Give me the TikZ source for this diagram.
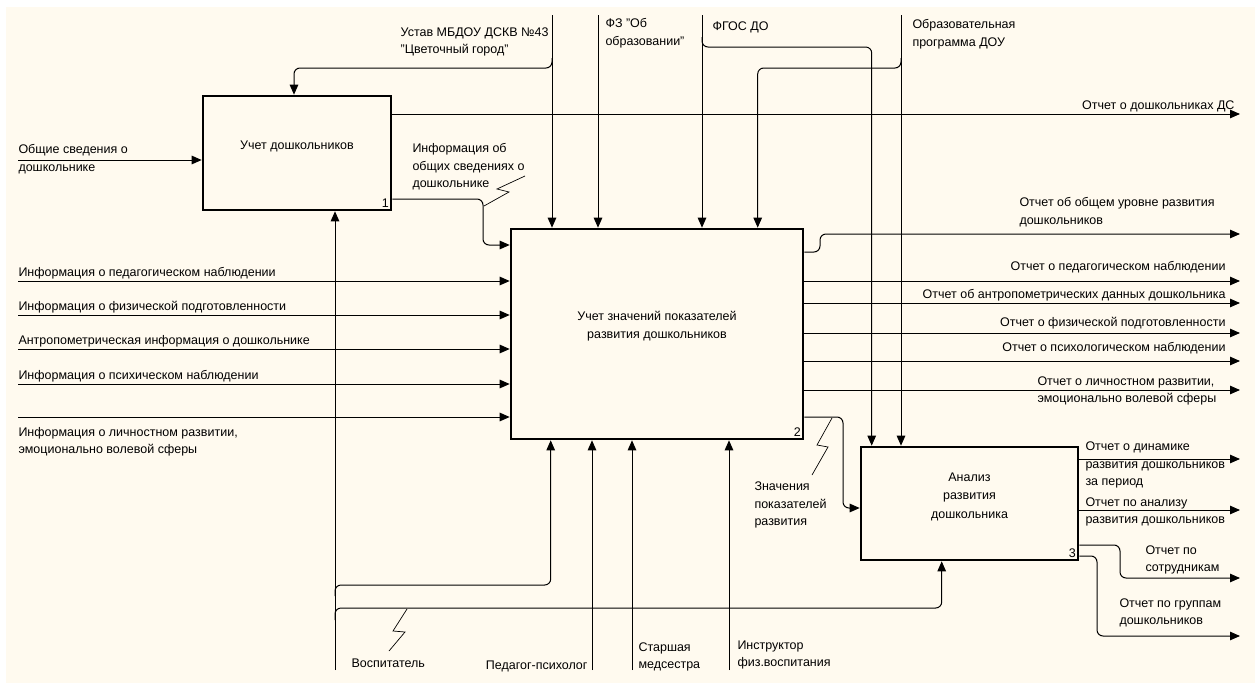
\documentclass[tikz,border=0pt]{standalone}
\usepackage{fontspec}
\setmainfont{Liberation Sans}
\usetikzlibrary{arrows.meta, positioning, calc}
\definecolor{paper}{RGB}{255,250,239}

\begin{document}
\begin{tikzpicture}[x=1pt, y=-1pt, >={Triangle[length=10pt,width=8.5pt]},
  font=\fontsize{12.5}{17.5}\selectfont, line width=1pt,
  func/.style={draw, line width=2.6pt, inner sep=0pt},
  num/.style={anchor=south east, inner sep=3pt},
  lbl/.style={inner sep=0pt, align=left},
  rc/.style={rounded corners=6pt},
  zig/.style={line width=0.7pt}]
  \useasboundingbox (0,0) rectangle (1259,683);
  \fill[paper] (6,7) rectangle (1255,683);
  % function boxes
  \node[func, minimum width=188pt, minimum height=114pt] (b1) at (297,153) {};
  \node[func, minimum width=292pt, minimum height=210pt] (b2) at (657,334) {};
  \node[func, minimum width=217pt, minimum height=113pt] (b3) at (969.5,503.5) {};
  \node[align=center] (t1) at ([yshift=7pt]b1.center) {Учет дошкольников};
  \node[align=center] (t2) at ([yshift=8pt]b2.center) {Учет значений показателей\\развития дошкольников};
  \node[align=center, font=\fontsize{12.5}{18.5}\selectfont] (t3) at ([yshift=7pt]b3.center) {Анализ\\развития\\дошкольника};
  \node[num] (n1) at (b1.south east) {1};
  \node[num] (n2) at (b2.south east) {2};
  \node[num] (n3) at (b3.south east) {3};
  % controls from the top
  \coordinate (ust) at (552,15);
  \coordinate (fz) at (598,15);
  \coordinate (fgos) at (702,15);
  \coordinate (op) at (901,15);
  \draw[->] (ust) -- (ust |- b2.north);
  \draw[->] (fz) -- (fz |- b2.north);
  \draw[->] (fgos) -- (fgos |- b2.north);
  \draw[->] (op) -- (op |- b3.north);
  \draw[->, rc] (ust |- 0,58) -- (ust |- 0,68) -| ([xshift=-3pt]b1.north);
  \draw[->, rc] (fgos |- 0,37) -- (fgos |- 0,47) -| ([xshift=12pt]b3.north west);
  \draw[->, rc] (op |- 0,58) -- (op |- 0,68) -| ([xshift=248pt]b2.north west);
  \node[lbl, anchor=east] (lust) at (549,42) {Устав МБДОУ ДСКВ №43\\"Цветочный город"};
  \node[lbl, anchor=west] (lfz) at (605,33) {ФЗ "Об\\образовании"};
  \node[lbl, anchor=west] (lfgos) at (712,27) {ФГОС ДО};
  \node[lbl, anchor=west] (lop) at (912,34) {Образовательная\\программа ДОУ};
  % inputs
  \coordinate (gen) at (18,160);
  \draw[->] (gen) -- (gen -| b1.west);
  \node[lbl, anchor=west] (lgen) at (18,159) {Общие сведения о\\дошкольнике};
  \foreach \y/\ly/\t in {281/273/Информация о педагогическом наблюдении,
      315/307/Информация о физической подготовленности,
      349/341/Антропометрическая информация о дошкольнике,
      384/376/Информация о психическом наблюдении, 417/442/} {
    \coordinate (in\y) at (18,\y);
    \draw[->] (in\y) -- (in\y -| b2.west);
    \node[lbl, anchor=west] (li\y) at (18,\ly) {\t};
  }
  \node[lbl, anchor=west] (lpers) at (18,442) {Информация о личностном развитии,\\эмоционально волевой сферы};
  % box 1 to box 2
  \draw[->, rc] (b1.east |- 0,199) -- (483,199) |- (b2.west |- 0,245);
  \draw[zig] (484,206) -- (509,192) -- (497,189) -- (525,176);
  \node[lbl, anchor=west] (linf) at (412,167) {Информация об\\общих сведениях о\\дошкольнике};
  % outputs of box 1 and box 2
  \coordinate (o1) at (1240,114);
  \draw[->] (b1.east |- o1) -- (o1);
  \node[lbl, anchor=east] (lo1) at (1235,106) {Отчет о дошкольниках ДС};
  \coordinate (o2) at (1240,234);
  \draw[->, rc] (b2.east |- 0,252) -- (820,252) |- (o2);
  \node[lbl, anchor=west] (lo2) at (1019,212) {Отчет об общем уровне развития\\дошкольников};
  \foreach \y/\ly/\t in {281/267/Отчет о педагогическом наблюдении,
      303/295/Отчет об антропометрических данных дошкольника,
      333/323/Отчет о физической подготовленности,
      361/348/Отчет о психологическом наблюдении} {
    \coordinate (out\y) at (1240,\y);
    \draw[->] (b2.east |- out\y) -- (out\y);
    \node[lbl, anchor=east] (lout\y) at (1226,\ly) {\t};
  }
  \coordinate (o7) at (1240,390);
  \draw[->] (b2.east |- o7) -- (o7);
  \node[lbl, anchor=west] (lo7) at (1037,391) {Отчет о личностном развитии,\\эмоционально волевой сферы};
  % box 2 to box 3
  \draw[->, rc] (b2.east |- 0,417) -- (843,417) |- (b3.west |- 0,508);
  \draw[zig] (832,418) -- (817,445) -- (828,447) -- (812,475);
  \node[lbl, anchor=west] (lznach) at (754,505) {Значения\\показателей\\развития};
  % outputs of box 3
  \coordinate (d1) at (1240,459);
  \coordinate (d2) at (1240,510);
  \coordinate (d3) at (1240,578);
  \coordinate (d4) at (1240,636);
  \draw[->] (b3.east |- d1) -- (d1);
  \draw[->] (b3.east |- d2) -- (d2);
  \draw[->, rc] (b3.east |- 0,545) -- (1120,545) |- (d3);
  \draw[->, rc] (b3.east |- 0,556) -- (1097,556) |- (d4);
  \node[lbl, anchor=west] (ld1) at (1085,465) {Отчет о динамике\\развития дошкольников\\за период};
  \node[lbl, anchor=west] (ld2) at (1085,512) {Отчет по анализу\\развития дошкольников};
  \node[lbl, anchor=west] (ld3) at (1145,560) {Отчет по\\сотрудникам};
  \node[lbl, anchor=west] (ld4) at (1119,613) {Отчет по группам\\дошкольников};
  % mechanisms from the bottom
  \coordinate (vos) at (335,670);
  \coordinate (psy) at (592,670);
  \coordinate (med) at (632,670);
  \coordinate (fiz) at (729,670);
  \draw[->] (vos) -- (vos |- b1.south);
  \draw[->, rc] (vos |- 0,596) -- (vos |- 0,585) -| ([xshift=41pt]b2.south west);
  \draw[->, rc] (vos |- 0,620) -- (vos |- 0,608) -| ([xshift=82pt]b3.south west);
  \draw[->] (psy) -- (psy |- b2.south);
  \draw[->] (med) -- (med |- b2.south);
  \draw[->] (fiz) -- (fiz |- b2.south);
  \draw[zig] (407,609) -- (393,631) -- (405,632) -- (389,651);
  \node[lbl, anchor=west] (lvos) at (351,663) {Воспитатель};
  \node[lbl, anchor=east] (lpsy) at (588,666) {Педагог-психолог};
  \node[lbl, anchor=west] (lmed) at (638,657) {Старшая\\медсестра};
  \node[lbl, anchor=west] (lfiz) at (737,655) {Инструктор\\физ.воспитания};
\end{tikzpicture}
\end{document}
